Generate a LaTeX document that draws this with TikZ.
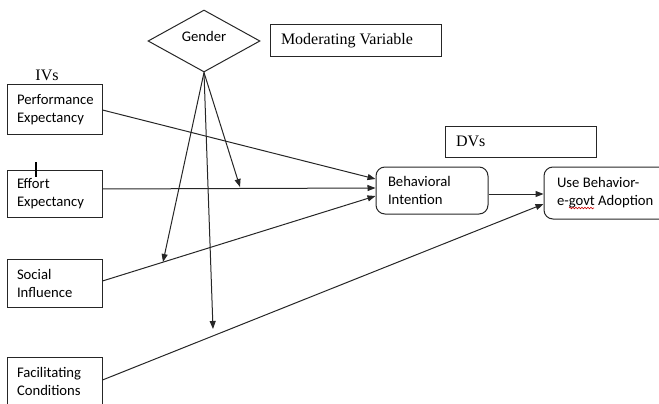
\documentclass[tikz,border=0pt]{standalone}
\usepackage{fontspec}
\setmainfont{Liberation Serif}
\newfontfamily\calfont{Carlito}
\usetikzlibrary{positioning,arrows.meta,calc,shapes.geometric,decorations.pathmorphing}
\tikzset{
  u3var/.style={rectangle, draw=black!85, line width=1pt, align=flush left, inner xsep=10pt,
                inner ysep=0pt, font=\calfont\fontsize{14.67}{18}\selectfont},
  u3dep/.style={u3var, rounded corners=9pt, inner xsep=12pt},
  u3gate/.style={diamond, draw=black!85, line width=1pt, inner sep=0pt},
  u3head/.style={rectangle, draw=black!85, line width=1pt, align=flush left, inner xsep=11pt,
                 inner ysep=0pt, font=\fontsize{16}{19}\selectfont},
  u3lab/.style={font=\calfont\fontsize{14.67}{18}\selectfont},
  u3rel/.style={draw=black!85, line width=1pt, -{Triangle[length=8pt,width=6pt]}},
}
\newcommand{\uThreeSquiggle}{red!80!black}

\begin{document}
\begin{tikzpicture}[x=1pt, y=-1pt]
  \useasboundingbox (0,0) rectangle (659,404);
  % moderator
  \node[u3gate, minimum width=112pt, minimum height=62pt] (G) at (204,41) {};
  \node[u3lab] (Gt) at (204,36) {Gender};
  \node[u3head, minimum width=171pt, minimum height=32pt, text width=149pt] (MV) at (355.5,41) {Moderating Variable};
  % independent variables
  \node[font=\fontsize{16}{19}\selectfont] (IV) at (47,75) {IVs};
  \node[u3var, minimum width=95pt, minimum height=49pt, text width=75pt] (PE) at (54.5,109.5) {Performance\\Expectancy};
  \node[u3var, minimum width=95pt, minimum height=47pt, text width=75pt] (EE) at (54.5,193.5) {Effort\\Expectancy};
  \node[u3var, minimum width=95pt, minimum height=48pt, text width=75pt] (SI) at (54.5,283) {Social\\Influence};
  \node[u3var, minimum width=95pt, minimum height=49pt, text width=75pt] (FC) at (54.5,381.5) {Facilitating\\Conditions};
  % dependent variables
  \node[u3head, minimum width=151pt, minimum height=31pt, text width=129pt] (DV) at (520.5,141.5) {DVs};
  \node[u3dep, minimum width=112pt, minimum height=47pt, text width=88pt] (BI) at (432,190.5) {Behavioral\\Intention};
  \node[u3dep, minimum width=132pt, minimum height=52pt, text width=106pt, inner xsep=13pt] (UB) at (610,193) {Use Behavior-\\e-govt Adoption};
  % points where gender meets the paths
  \coordinate (mEE) at (240,187);
  \coordinate (mSI) at (163,262);
  \coordinate (mFC) at (213,329);
  % paths
  \draw[u3rel] ($(PE.east)+(0,0.5)$) -- ($(BI.west)+(0,-11.5)$);
  \draw[u3rel] ($(EE.east)+(0,-4.5)$) -- ($(BI.west)+(0,-2.5)$);
  \draw[u3rel] ($(SI.east)+(0,-2)$) -- ($(BI.west)+(0,5.5)$);
  \draw[u3rel] ($(BI.east)+(0,3.5)$) -- ($(UB.west)+(0,1)$);
  \draw[u3rel] ($(FC.east)+(0,-1.5)$) -- ($(UB.west)+(0,11)$);
  \draw[u3rel] (G.south) -- (mEE);
  \draw[u3rel] (G.south) -- (mSI);
  \draw[u3rel] (G.south) -- (mFC);
  % cursor mark and spelling line
  \draw[line width=1.6pt] (36,162) -- (36,177);
  \draw[\uThreeSquiggle, line width=0.6pt, decorate,
        decoration={snake, amplitude=0.8pt, segment length=3pt}] (569,208) -- (594,208);
\end{tikzpicture}
\end{document}
